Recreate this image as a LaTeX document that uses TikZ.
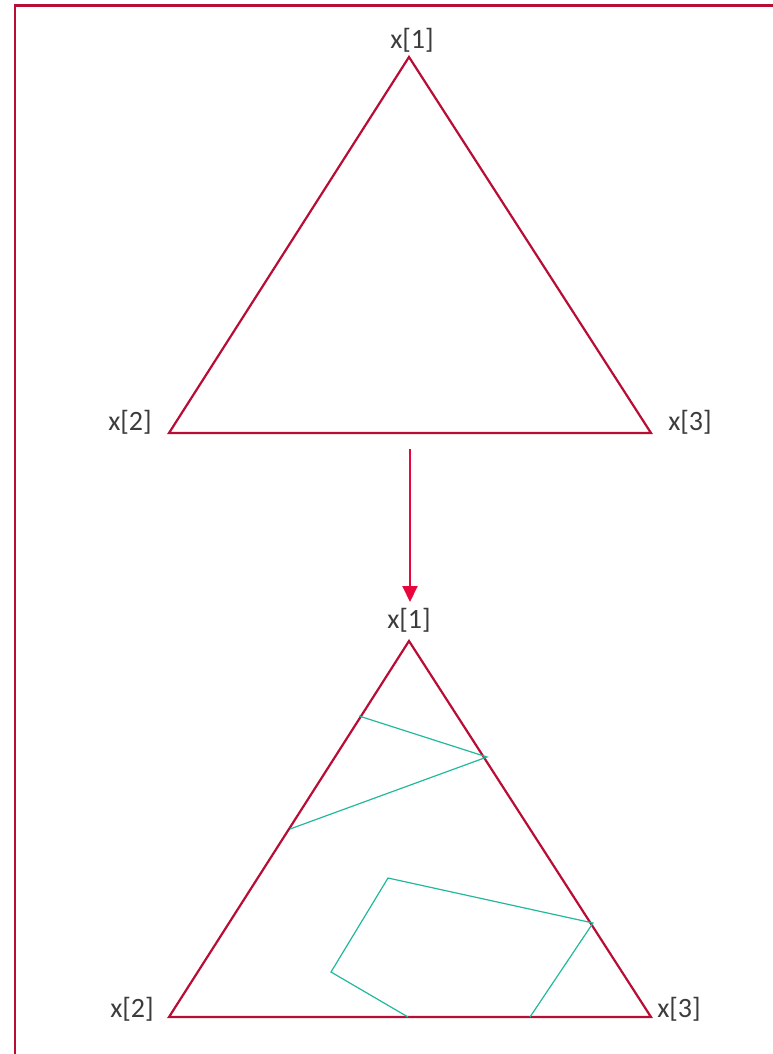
\documentclass[tikz,border=0pt]{standalone}
\usepackage{fontspec}
\setmainfont{Carlito}
\usetikzlibrary{arrows.meta}
\definecolor{tri}{HTML}{B80D35}
\definecolor{arr}{HTML}{E8063C}
\definecolor{teal2}{HTML}{22B89C}
\definecolor{txt}{HTML}{3C3C3C}
\tikzset{
  triline/.style={draw=tri, line width=2.2pt, line join=miter},
  frameline/.style={draw=tri, line width=2.2pt},
  walk/.style={draw=teal2, line width=1.2pt},
  lbl/.style={text=txt, font=\fontsize{28}{30}\selectfont, inner sep=0pt},
  pt/.style={inner sep=0pt, minimum size=0pt}
}
\begin{document}
\begin{tikzpicture}[x=1pt,y=-1pt]
\useasboundingbox (0,0) rectangle (773,1054);
% frame (right and bottom edges outside the view)
\draw[frameline] (15,1100) -- (15,5.5) -- (800,5.5);
% top triangle
\coordinate (a1) at (409,57);
\coordinate (a2) at (169,433);
\coordinate (a3) at (651,433);
\draw[triline] (a1) -- (a2) -- (a3) -- cycle;
\node[lbl] (l1) at (412,40) {x[1]};
\node[lbl] (l2) at (130,422) {x[2]};
\node[lbl] (l3) at (690,422) {x[3]};
% arrow
\coordinate (s) at (410,449);
\coordinate (e) at (410,602);
\draw[arr, line width=2pt, -{Triangle[width=15pt,length=16pt]}] (s) -- (e);
% bottom triangle
\coordinate (b1) at (409,641);
\coordinate (b2) at (169,1017);
\coordinate (b3) at (651,1017);
\draw[triline] (b1) -- (b2) -- (b3) -- cycle;
\node[lbl] (m1) at (409,620) {x[1]};
\node[lbl] (m2) at (132,1009) {x[2]};
\node[lbl] (m3) at (679,1009) {x[3]};
% walks
\coordinate (p1) at (359,716);
\coordinate (p2) at (487,757);
\coordinate (p3) at (290,829);
\draw[walk] (p1) -- (p2) -- (p3);
\coordinate (q1) at (408,1017);
\coordinate (q2) at (331,972);
\coordinate (q3) at (388,878);
\coordinate (q4) at (593,923);
\coordinate (q5) at (530,1017);
\draw[walk] (q1) -- (q2) -- (q3) -- (q4) -- (q5);
\end{tikzpicture}
\end{document}
